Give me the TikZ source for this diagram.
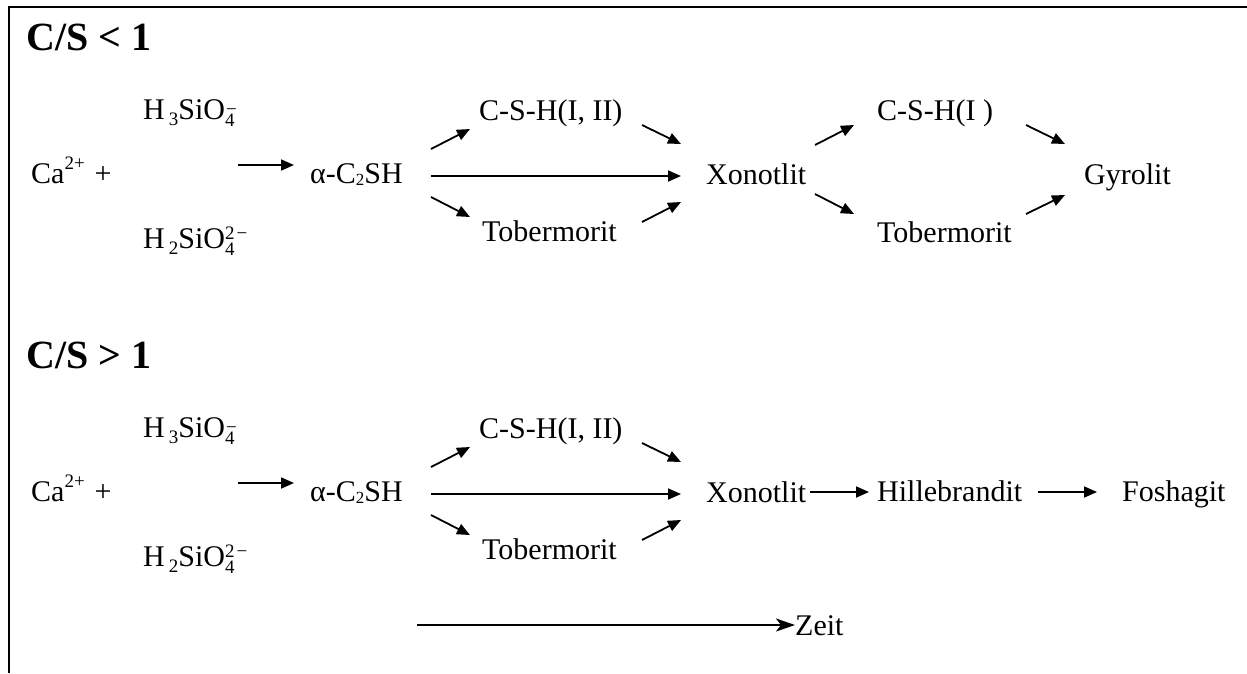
\documentclass[tikz,border=0pt]{standalone}
\usepackage{fontspec}
\setmainfont{Liberation Serif}
\usetikzlibrary{arrows.meta}
\newcommand{\lowsc}[2][6pt]{\raisebox{-#1}{\fontsize{19}{19}\selectfont #2}}
\newcommand{\hisc}[2][10pt]{\raisebox{#1}{\fontsize{19}{19}\selectfont #2}}
\newcommand{\Hthree}{H\kern4pt\lowsc{3}SiO\makebox[0pt][l]{\lowsc[7pt]{4}}\hisc[4pt]{\kern1pt−}}
\newcommand{\Htwo}{H\kern4pt\lowsc{2}SiO\makebox[0pt][l]{\lowsc[7pt]{4}}\hisc[9pt]{2\kern2pt−}}
\newcommand{\alphaCSH}{α-C\raisebox{-2pt}{\fontsize{17}{17}\selectfont 2}SH}
\newcommand{\leftpart}[1]{%
  \node[txt] (hA#1) at (143,119) {\Hthree};
  \node[txt] (ca#1) at (31,183) {Ca\hisc[14pt]{2+}\kern10pt+};
  \node[txt] (hB#1) at (143,248) {\Htwo};
  \node[txt] (al#1) at (310,183) {\alphaCSH};
  \node[txt] (cs#1) at (479,120) {C-S-H(I, II)};
  \node[txt] (tb#1) at (482,241) {Tobermorit};
  \node[txt] (xo#1) at (706,184) {Xonotlit};
  \coordinate (s1#1) at (238,165); \coordinate (s2#1) at (294,165);
  \coordinate (u1#1) at (431,149); \coordinate (u2#1) at (470,129);
  \coordinate (m1#1) at (431,176); \coordinate (m2#1) at (681,176);
  \coordinate (l1#1) at (431,197); \coordinate (l2#1) at (470,217);
  \coordinate (v1#1) at (642,125); \coordinate (v2#1) at (681,144);
  \coordinate (w1#1) at (642,222); \coordinate (w2#1) at (681,202);
  \draw[arr] (s1#1) -- (s2#1);
  \draw[arr] (u1#1) -- (u2#1);
  \draw[arr] (m1#1) -- (m2#1);
  \draw[arr] (l1#1) -- (l2#1);
  \draw[arr] (v1#1) -- (v2#1);
  \draw[arr] (w1#1) -- (w2#1);
}
\tikzset{
  txt/.style={anchor=base west, inner sep=0pt, font=\fontsize{30}{36}\selectfont},
  head/.style={anchor=base west, inner sep=0pt, font=\fontsize{40}{48}\selectfont\bfseries},
  arr/.style={line width=1.8pt, -{Triangle[length=13pt,width=11pt]}},
  zarr/.style={line width=2.2pt, -{Stealth[length=19pt,width=13pt,inset=5pt]}},
  frame/.style={line width=2pt}
}
\begin{document}
\begin{tikzpicture}[x=1pt,y=-1pt]
\useasboundingbox (0,0) rectangle (1247,673);
\coordinate (fr1) at (1247,7); \coordinate (fr2) at (9,7); \coordinate (fr3) at (9,673);
\draw[frame] (fr1) -- (fr2) -- (fr3);
% top section
\node[head] (h1) at (26,50) {C/S < 1};
\leftpart{a}
\node[txt] (cs2) at (877,120) {C-S-H(I )};
\node[txt] (tb2) at (877,242) {Tobermorit};
\node[txt] (gy) at (1084,184) {Gyrolit};
\coordinate (ra1) at (815,145); \coordinate (ra2) at (854,125);
\coordinate (rb1) at (815,194); \coordinate (rb2) at (854,214);
\coordinate (rc1) at (1026,125); \coordinate (rc2) at (1065,144);
\coordinate (rd1) at (1026,214); \coordinate (rd2) at (1065,195);
\draw[arr] (ra1) -- (ra2);
\draw[arr] (rb1) -- (rb2);
\draw[arr] (rc1) -- (rc2);
\draw[arr] (rd1) -- (rd2);
% bottom section
\node[head] (h2) at (26,368) {C/S > 1};
\begin{scope}[yshift=-318pt]
\leftpart{b}
\end{scope}
\node[txt] (hi) at (877,501) {Hillebrandit};
\node[txt] (fo) at (1122,501) {Foshagit};
\coordinate (xa1) at (810,492); \coordinate (xa2) at (869,492);
\coordinate (xb1) at (1038,492); \coordinate (xb2) at (1097,492);
\draw[arr] (xa1) -- (xa2);
\draw[arr] (xb1) -- (xb2);
% time axis
\node[txt] (zeit) at (795,635) {Zeit};
\coordinate (z1) at (417,625);
\draw[zarr] (z1) -- (zeit.west |- z1);
\end{tikzpicture}
\end{document}
